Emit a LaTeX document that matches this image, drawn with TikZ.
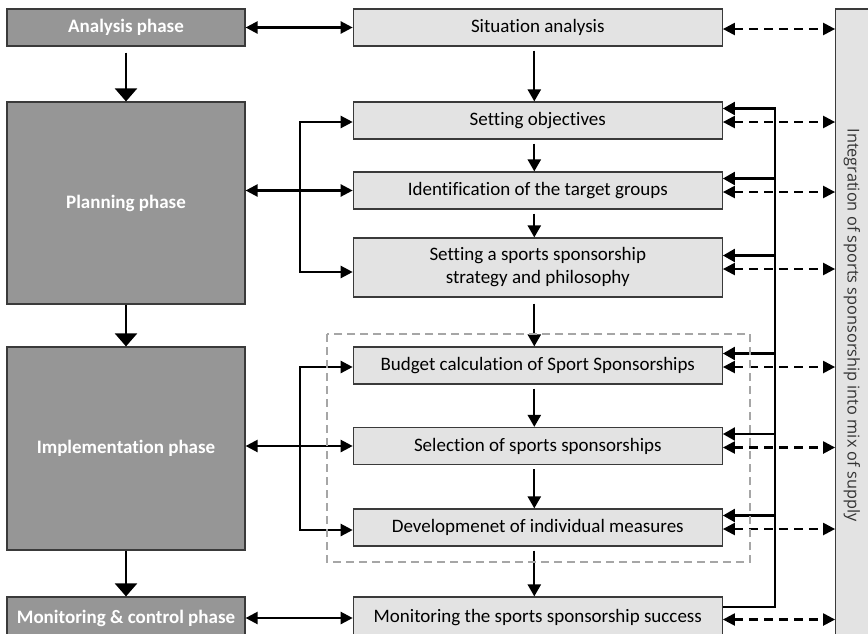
\documentclass[tikz,border=0pt]{standalone}
\usepackage{fontspec}
\setmainfont{Carlito}[Ligatures=NoCommon]
\newfontfamily\sidefont{Open Sans}
\usetikzlibrary{arrows.meta}

\definecolor{phasefill}{HTML}{969696}
\definecolor{stepfill}{HTML}{E3E3E3}
\definecolor{edgegray}{HTML}{3A3A3A}
\definecolor{groupgray}{HTML}{A6A6A6}
\definecolor{sidetext}{HTML}{333333}

\begin{document}
\begin{tikzpicture}[x=1pt,y=-1pt,
  phasebox/.style={draw=edgegray, line width=1.2pt, fill=phasefill, text=white,
    font=\bfseries\fontsize{19}{22}\selectfont, minimum width=238pt, inner sep=0pt},
  stepbox/.style={draw=edgegray, line width=1.2pt, fill=stepfill,
    font=\fontsize{19}{23}\selectfont, minimum width=369pt, align=center, inner sep=0pt},
  sidebox/.style={draw=edgegray, line width=1.2pt, fill=stepfill, minimum width=45pt,
    minimum height=650pt, inner sep=0pt},
  flow/.style={line width=2.3pt, -{Triangle[length=12pt,width=13pt]}},
  bigflow/.style={line width=2.4pt, -{Triangle[length=13pt,width=22pt]}},
  link/.style={line width=2.3pt, {Triangle[length=12pt,width=12pt]}-{Triangle[length=12pt,width=12pt]}},
  dlink/.style={link, dash pattern=on 9pt off 6pt},
  groupframe/.style={draw=groupgray, line width=2pt, dash pattern=on 8pt off 5pt},
]
\clip (0,0) rectangle (868,633);
\fill[white] (0,0) rectangle (868,633);

% phase column
\node[phasebox, minimum height=37pt]  (ana)  at (126,27.5) {Analysis phase};
\node[phasebox, minimum height=202pt] (plan) at (126,203)  {Planning phase};
\node[phasebox, minimum height=203pt] (impl) at (126,448.5) {Implementation phase};
\node[phasebox, minimum height=42pt]  (mon)  at (126,618)  {Monitoring \& control phase};

% step column
\node[stepbox, minimum height=37pt] (sit)    at (537.8,27.5)  {Situation analysis};
\node[stepbox, minimum height=37pt] (obj)    at (537.8,120.5) {Setting objectives};
\node[stepbox, minimum height=37pt] (ident)  at (537.8,190.5) {Identification of the target groups};
\node[stepbox, minimum height=59pt] (strat)  at (537.8,267.5) {Setting a sports sponsorship\\strategy and philosophy};
\node[stepbox, minimum height=37pt] (budget) at (537.8,365.5) {Budget calculation of Sport Sponsorships};
\node[stepbox, minimum height=37pt] (sel)    at (537.8,446)   {Selection of sports sponsorships};
\node[stepbox, minimum height=37pt] (dev)    at (537.8,527.5) {Developmenet of individual measures};
\node[stepbox, minimum height=42pt] (msucc)  at (537.8,618)   {Monitoring the sports sponsorship success};

% integration bar
\node[sidebox] (integ) at (858.2,334) {};
\node[rotate=-90, text=sidetext, font=\sidefont\fontsize{16.3}{19}\selectfont] (integlabel) at (852,325)
  {Integration of sports sponsorship into mix of supply};

% connection points: dashed links (d), feedback inputs (f), bracket inputs (b)
\foreach \n in {sit,obj,ident,strat,budget,sel,dev,msucc}{
  \coordinate (\n-d) at ([yshift=-1.5pt]\n.east);
  \coordinate (\n-f) at ([yshift=12pt]\n.east);
}
\coordinate (msucc-out) at ([yshift=11pt]msucc.east);
\coordinate (obj-b)    at ([yshift=-1.5pt]obj.west);
\coordinate (strat-b)  at ([yshift=-4.5pt]strat.west);
\coordinate (budget-b) at ([yshift=-1.5pt]budget.west);
\coordinate (dev-b)    at ([yshift=-2.5pt]dev.west);
\coordinate (brx)  at (300,0);
\coordinate (busx) at (775,0);

% phase sequence
\draw[bigflow] ([yshift=-6pt]ana.south) -- (plan.north);
\draw[bigflow] (plan.south) -- (impl.north);
\draw[bigflow] (impl.south) -- (mon.north);

% step sequence
\draw[flow] ([xshift=-3.5pt,yshift=-4pt]sit.south)    -- ([xshift=-3.5pt]obj.north);
\draw[flow] ([xshift=-3.5pt,yshift=-4pt]obj.south)    -- ([xshift=-3.5pt]ident.north);
\draw[flow] ([xshift=-3.5pt,yshift=-4pt]ident.south)  -- ([xshift=-3.5pt]strat.north);
\draw[flow] ([xshift=-3.5pt,yshift=-6pt]strat.south)  -- ([xshift=-3.5pt]budget.north);
\draw[flow] ([xshift=-3.5pt,yshift=-4pt]budget.south) -- ([xshift=-3.5pt]sel.north);
\draw[flow] ([xshift=-3.5pt,yshift=-4pt]sel.south)    -- ([xshift=-3.5pt]dev.north);
\draw[flow] ([xshift=-3.5pt,yshift=-4pt]dev.south)    -- ([xshift=-3.5pt]msucc.north);

% phase <-> step links
\draw[link] (ana.east) -- (sit.west);
\draw[link] (plan.east |- ident.west) -- (ident.west);
\draw[link] (impl.east |- sel.west) -- (sel.west);
\draw[link] (mon.east) -- (msucc.west);

% brackets to the first and last step of a phase
\draw[link] (obj-b) -| (brx |- strat-b) -- (strat-b);
\draw[link] (budget-b) -| (brx |- dev-b) -- (dev-b);

% feedback bus from monitoring
\draw[flow] (msucc-out) -| (busx |- obj-f) -- (obj-f);
\foreach \n in {ident,strat,budget,sel,dev}
  \draw[flow] (busx |- \n-f) -- (\n-f);

% links to the integration bar
\foreach \n in {sit,obj,ident,strat,budget,sel,dev,msucc}
  \draw[dlink] (\n-d) -- (integ.west |- \n-d);

% implementation group
\draw[groupframe] (327,334) rectangle (750,562);
\end{tikzpicture}
\end{document}
